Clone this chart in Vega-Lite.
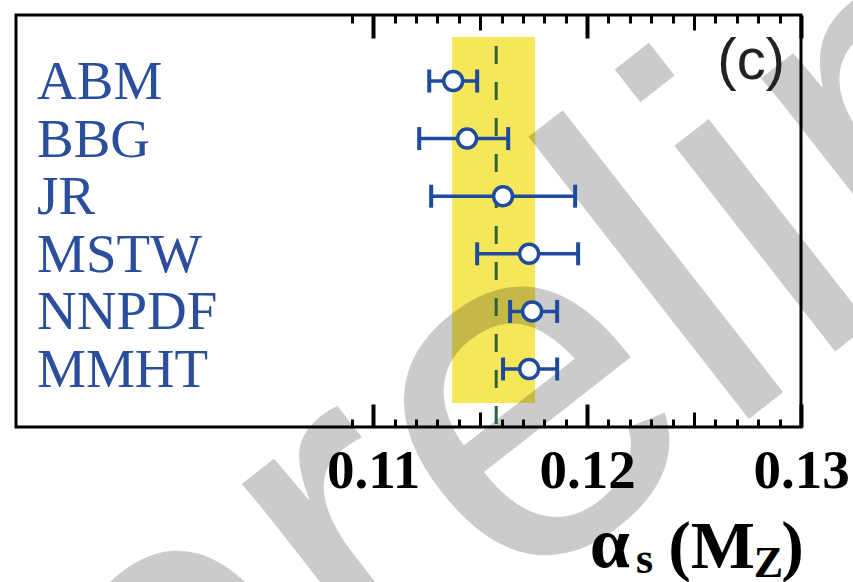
{
  "$schema": "https://vega.github.io/schema/vega-lite/v6.json",
  "width": 785,
  "height": 412,
  "autosize": {"type": "none"},
  "padding": {"left": 16, "top": 15, "right": 52, "bottom": 155},
  "background": "white",
  "config": {"view": {"stroke": "black", "strokeWidth": 3}},
  "datasets": {
    "fits": [
      {"name": "ABM", "val": 0.11374, "lo": 0.11262, "hi": 0.11486},
      {"name": "BBG", "val": 0.11439, "lo": 0.11215, "hi": 0.11631},
      {"name": "JR", "val": 0.11607, "lo": 0.11271, "hi": 0.11944},
      {"name": "MSTW", "val": 0.11729, "lo": 0.11486, "hi": 0.11958},
      {"name": "NNPDF", "val": 0.11743, "lo": 0.1164, "hi": 0.1186},
      {"name": "MMHT", "val": 0.11729, "lo": 0.11607, "hi": 0.1186}
    ],
    "world": [{"lo": 0.11369, "hi": 0.11757, "mid": 0.11575}],
    "one": [{}]
  },
  "resolve": {"axis": {"x": "independent"}},
  "layer": [
    {
      "data": {"name": "world"},
      "mark": {"type": "rect", "color": "#f6e75a", "yOffset": -44, "y2Offset": 34},
      "encoding": {
        "x": {"field": "lo", "type": "quantitative",
          "scale": {"domain": [0.0933, 0.13], "nice": false, "zero": false},
          "axis": {"orient": "bottom", "title": null, "domain": false, "grid": false, "ticks": false,
            "values": [0.11, 0.12, 0.13], "format": ".2f",
            "labelFont": "Liberation Serif", "labelFontWeight": "bold", "labelFontSize": 55,
            "labelColor": "black", "labelPadding": 17, "labelFlush": false, "labelOverlap": false,
            "labelBound": false, "zindex": 1}
        },
        "x2": {"field": "hi"},
        "y": {"datum": "ABM", "type": "nominal",
          "scale": {"type": "point", "domain": ["ABM","BBG","JR","MSTW","NNPDF","MMHT"], "range": [66, 354], "padding": 0}, "axis": null},
        "y2": {"datum": "MMHT"}
      }
    },
    {
      "data": {"name": "one"},
      "mark": {"type": "text", "text": "preliminary", "font": "Liberation Sans", "fontSize": 494,
        "angle": 322, "align": "left", "baseline": "alphabetic", "color": "black", "opacity": 0.2, "xOffset": -4, "yOffset": 510},
      "encoding": {
        "x": {"datum": 0.10022, "type": "quantitative", "scale": {"domain": [0.0933, 0.13], "nice": false, "zero": false}, "axis": null},
        "y": {"datum": "MMHT", "type": "nominal", "scale": {"type": "point", "domain": ["ABM","BBG","JR","MSTW","NNPDF","MMHT"], "range": [66, 354], "padding": 0}, "axis": null}
      }
    },
    {
      "data": {"name": "world"},
      "mark": {"type": "rule", "color": "#2e6232", "strokeWidth": 3, "strokeDash": [18, 18], "yOffset": -35, "y2Offset": 58},
      "encoding": {
        "x": {"field": "mid", "type": "quantitative", "scale": {"domain": [0.0933, 0.13], "nice": false, "zero": false},
          "axis": {"orient": "bottom", "title": null, "domain": false, "grid": false, "labels": false,
            "values": [0.11, 0.12, 0.13], "tickSize": -23, "tickWidth": 4, "tickColor": "black", "zindex": 1}},
        "y": {"datum": "ABM", "type": "nominal", "scale": {"type": "point", "domain": ["ABM","BBG","JR","MSTW","NNPDF","MMHT"], "range": [66, 354], "padding": 0}, "axis": null},
        "y2": {"datum": "MMHT"}
      }
    },
    {
      "data": {"name": "fits"},
      "mark": {"type": "rule", "color": "#1f4b9e", "strokeWidth": 3.5},
      "encoding": {
        "x": {"field": "lo", "type": "quantitative", "scale": {"domain": [0.0933, 0.13], "nice": false, "zero": false},
          "axis": {"orient": "bottom", "title": null, "domain": false, "grid": false, "labels": false,
            "values": [0.115, 0.125], "tickSize": -15, "tickWidth": 3, "tickColor": "black", "zindex": 1}},
        "x2": {"field": "hi"},
        "y": {"field": "name", "type": "nominal", "scale": {"type": "point", "domain": ["ABM","BBG","JR","MSTW","NNPDF","MMHT"], "range": [66, 354], "padding": 0}, "axis": null}
      }
    },
    {
      "data": {"name": "fits"},
      "mark": {"type": "tick", "orient": "vertical", "size": 23, "thickness": 4, "color": "#1f4b9e", "opacity": 1},
      "encoding": {
        "x": {"field": "lo", "type": "quantitative", "scale": {"domain": [0.0933, 0.13], "nice": false, "zero": false},
          "axis": {"orient": "bottom", "title": null, "domain": false, "grid": false, "labels": false,
            "values": [0.109,0.111,0.112,0.113,0.114,0.116,0.117,0.118,0.119,0.121,0.122,0.123,0.124,0.126,0.127,0.128,0.129],
            "tickSize": -8, "tickWidth": 3, "tickColor": "black", "zindex": 1}},
        "y": {"field": "name", "type": "nominal", "scale": {"type": "point", "domain": ["ABM","BBG","JR","MSTW","NNPDF","MMHT"], "range": [66, 354], "padding": 0}, "axis": null}
      }
    },
    {
      "data": {"name": "fits"},
      "mark": {"type": "tick", "orient": "vertical", "size": 23, "thickness": 4, "color": "#1f4b9e", "opacity": 1},
      "encoding": {
        "x": {"field": "hi", "type": "quantitative", "scale": {"domain": [0.0933, 0.13], "nice": false, "zero": false},
          "axis": {"orient": "top", "title": null, "domain": false, "grid": false, "labels": false,
            "values": [0.11, 0.12, 0.13], "tickSize": -23, "tickWidth": 4, "tickColor": "black", "zindex": 1}},
        "y": {"field": "name", "type": "nominal", "scale": {"type": "point", "domain": ["ABM","BBG","JR","MSTW","NNPDF","MMHT"], "range": [66, 354], "padding": 0}, "axis": null}
      }
    },
    {
      "data": {"name": "fits"},
      "mark": {"type": "point", "shape": "circle", "filled": true, "fill": "white", "stroke": "#1f4b9e", "strokeWidth": 3.5, "size": 360, "opacity": 1},
      "encoding": {
        "x": {"field": "val", "type": "quantitative", "scale": {"domain": [0.0933, 0.13], "nice": false, "zero": false},
          "axis": {"orient": "top", "title": null, "domain": false, "grid": false, "labels": false,
            "values": [0.115, 0.125], "tickSize": -15, "tickWidth": 3, "tickColor": "black", "zindex": 1}},
        "y": {"field": "name", "type": "nominal", "scale": {"type": "point", "domain": ["ABM","BBG","JR","MSTW","NNPDF","MMHT"], "range": [66, 354], "padding": 0}, "axis": null}
      }
    },
    {
      "data": {"name": "fits"},
      "mark": {"type": "text", "font": "Liberation Serif", "fontSize": 55, "color": "#2a4e9c", "align": "left", "baseline": "alphabetic", "xOffset": 21, "yOffset": 18},
      "encoding": {
        "x": {"datum": 0.0933, "type": "quantitative", "scale": {"domain": [0.0933, 0.13], "nice": false, "zero": false},
          "axis": {"orient": "top", "title": null, "domain": false, "grid": false, "labels": false,
            "values": [0.109,0.111,0.112,0.113,0.114,0.116,0.117,0.118,0.119,0.121,0.122,0.123,0.124,0.126,0.127,0.128,0.129],
            "tickSize": -8, "tickWidth": 3, "tickColor": "black", "zindex": 1}},
        "y": {"field": "name", "type": "nominal", "scale": {"type": "point", "domain": ["ABM","BBG","JR","MSTW","NNPDF","MMHT"], "range": [66, 354], "padding": 0}, "axis": null},
        "text": {"field": "name"}
      }
    },
    {
      "data": {"name": "one"},
      "mark": {"type": "text", "text": "(c)", "font": "Liberation Sans", "fontSize": 58, "color": "#222222", "align": "right", "baseline": "alphabetic", "xOffset": -16, "yOffset": -2},
      "encoding": {
        "x": {"datum": 0.13, "type": "quantitative", "scale": {"domain": [0.0933, 0.13], "nice": false, "zero": false}, "axis": null},
        "y": {"datum": "ABM", "type": "nominal", "scale": {"type": "point", "domain": ["ABM","BBG","JR","MSTW","NNPDF","MMHT"], "range": [66, 354], "padding": 0}, "axis": null}
      }
    },
    {
      "data": {"name": "one"},
      "mark": {"type": "text", "text": "α", "font": "Liberation Serif", "fontWeight": "bold", "fontSize": 72, "color": "black", "align": "right", "baseline": "alphabetic", "xOffset": -171, "yOffset": 198},
      "encoding": {
        "x": {"datum": 0.13, "type": "quantitative", "scale": {"domain": [0.0933, 0.13], "nice": false, "zero": false}, "axis": null},
        "y": {"datum": "MMHT", "type": "nominal", "scale": {"type": "point", "domain": ["ABM","BBG","JR","MSTW","NNPDF","MMHT"], "range": [66, 354], "padding": 0}, "axis": null}
      }
    },
    {
      "data": {"name": "one"},
      "mark": {"type": "text", "text": "s", "font": "Liberation Serif", "fontWeight": "bold", "fontSize": 44, "color": "black", "align": "right", "baseline": "alphabetic", "xOffset": -148, "yOffset": 204},
      "encoding": {
        "x": {"datum": 0.13, "type": "quantitative", "scale": {"domain": [0.0933, 0.13], "nice": false, "zero": false}, "axis": null},
        "y": {"datum": "MMHT", "type": "nominal", "scale": {"type": "point", "domain": ["ABM","BBG","JR","MSTW","NNPDF","MMHT"], "range": [66, 354], "padding": 0}, "axis": null}
      }
    },
    {
      "data": {"name": "one"},
      "mark": {"type": "text", "text": "(M", "font": "Liberation Serif", "fontWeight": "bold", "fontSize": 68, "color": "black", "align": "right", "baseline": "alphabetic", "xOffset": -46, "yOffset": 199},
      "encoding": {
        "x": {"datum": 0.13, "type": "quantitative", "scale": {"domain": [0.0933, 0.13], "nice": false, "zero": false}, "axis": null},
        "y": {"datum": "MMHT", "type": "nominal", "scale": {"type": "point", "domain": ["ABM","BBG","JR","MSTW","NNPDF","MMHT"], "range": [66, 354], "padding": 0}, "axis": null}
      }
    },
    {
      "data": {"name": "one"},
      "mark": {"type": "text", "text": "Z", "font": "Liberation Serif", "fontWeight": "bold", "fontSize": 44, "color": "black", "align": "right", "baseline": "alphabetic", "xOffset": -18, "yOffset": 208},
      "encoding": {
        "x": {"datum": 0.13, "type": "quantitative", "scale": {"domain": [0.0933, 0.13], "nice": false, "zero": false}, "axis": null},
        "y": {"datum": "MMHT", "type": "nominal", "scale": {"type": "point", "domain": ["ABM","BBG","JR","MSTW","NNPDF","MMHT"], "range": [66, 354], "padding": 0}, "axis": null}
      }
    },
    {
      "data": {"name": "one"},
      "mark": {"type": "text", "text": ")", "font": "Liberation Serif", "fontWeight": "bold", "fontSize": 68, "color": "black", "align": "right", "baseline": "alphabetic", "xOffset": 3, "yOffset": 199},
      "encoding": {
        "x": {"datum": 0.13, "type": "quantitative", "scale": {"domain": [0.0933, 0.13], "nice": false, "zero": false}, "axis": null},
        "y": {"datum": "MMHT", "type": "nominal", "scale": {"type": "point", "domain": ["ABM","BBG","JR","MSTW","NNPDF","MMHT"], "range": [66, 354], "padding": 0}, "axis": null}
      }
    }
  ]
}
